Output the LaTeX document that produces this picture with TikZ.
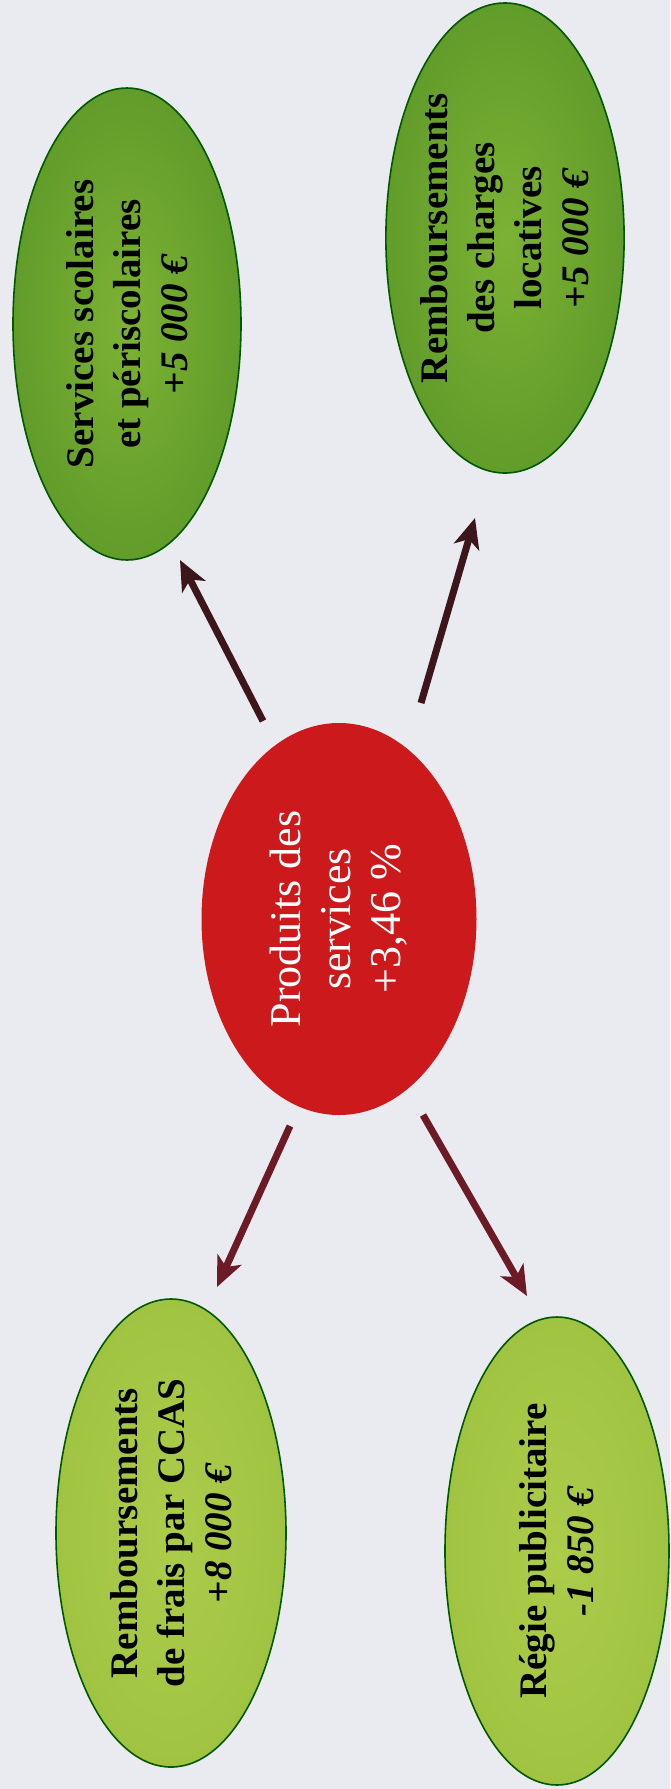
\documentclass[tikz,border=0pt]{standalone}
\usepackage{fontspec}
\setmainfont{Liberation Serif}
\usetikzlibrary{arrows.meta, shapes.geometric}
\definecolor{fond}{RGB}{233,235,240}
\definecolor{vertfonce}{RGB}{98,156,42}
\definecolor{vertclair}{RGB}{124,178,52}
\definecolor{jaunevert}{RGB}{160,196,66}
\definecolor{jauneclair}{RGB}{172,204,74}
\definecolor{rouge}{RGB}{204,26,28}
\definecolor{brun}{RGB}{60,22,26}
\definecolor{bordeaux}{RGB}{108,26,38}

\begin{document}
\begin{tikzpicture}[x=0.5pt, y=-0.5pt,
  bulle/.style={ellipse, rotate=90, inner sep=0pt, align=center,
    draw=green!35!black, line width=0.8pt,
    font=\fontsize{19.5pt}{23.5pt}\selectfont\bfseries},
  haut/.style={bulle, inner color=vertclair, outer color=vertfonce},
  bas/.style={bulle, inner color=jauneclair, outer color=jaunevert},
  centre/.style={ellipse, rotate=90, inner sep=0pt, align=center, fill=rouge,
    text=white, font=\fontsize{22pt}{25pt}\selectfont},
  fleche/.style={brun, line width=3.5pt, -{Stealth[length=15pt, width=13pt, inset=4pt]}}]

  % background
  \fill[fond] (0,0) rectangle (670,1789);

  % bubbles
  \node[haut, minimum width=236pt, minimum height=114pt] (scolaires) at (127,324)
    {Services scolaires\\et périscolaires\\\textit{+5 000 €}};
  \node[haut, minimum width=235pt, minimum height=115pt] (locatives) at (505,238)
    {Remboursements\\des charges\\locatives\\\textit{+5 000 €}};
  \node[centre, minimum width=196pt, minimum height=137.5pt] (produits) at (339,919)
    {Produits des\\services\\+3,46 \%};
  \node[bas, minimum width=234pt, minimum height=115pt] (ccas) at (171,1533)
    {Remboursements\\de frais par CCAS\\\textit{+8 000 €}};
  \node[bas, minimum width=234pt, minimum height=112pt] (regie) at (557,1551)
    {Régie publicitaire\\\textit{-1 850 €}};

  % arrow ends
  \coordinate (d1) at (263,721);  \coordinate (f1) at (180,560);
  \coordinate (d2) at (421,703);  \coordinate (f2) at (475,518);
  \coordinate (d3) at (290,1126); \coordinate (f3) at (217,1287);
  \coordinate (d4) at (423,1115); \coordinate (f4) at (527,1296);

  % arrows
  \draw[fleche] (d1) -- (f1);
  \draw[fleche] (d2) -- (f2);
  \draw[fleche, bordeaux] (d3) -- (f3);
  \draw[fleche, bordeaux] (d4) -- (f4);
\end{tikzpicture}
\end{document}
